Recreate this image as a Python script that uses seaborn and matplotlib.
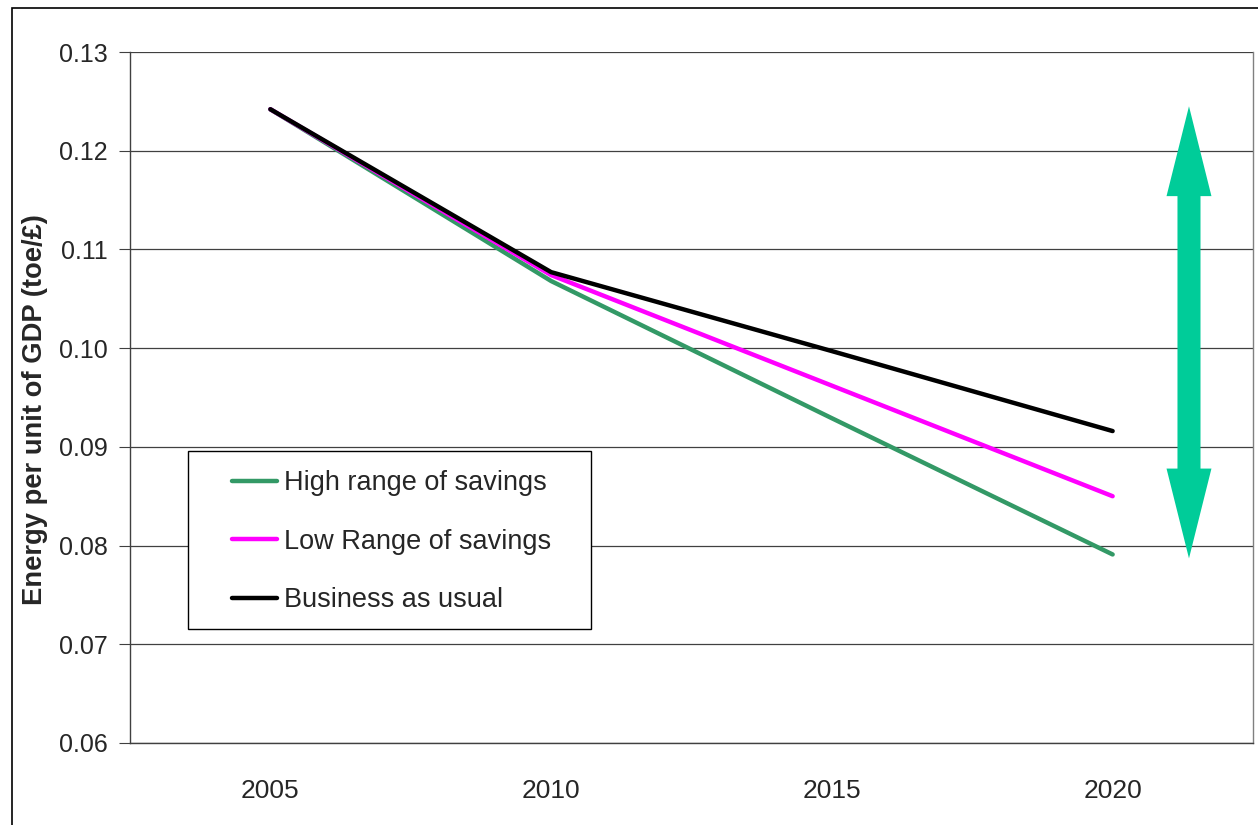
import matplotlib
matplotlib.use("Agg")
import matplotlib.pyplot as plt
import seaborn as sns
import pandas as pd
from matplotlib.patches import Rectangle, Polygon
from matplotlib.lines import Line2D

years = ["2005", "2010", "2015", "2020"]
high_savings = [0.1242, 0.1068, 0.0929, 0.0791]
low_savings = [0.1242, 0.1074, 0.0962, 0.0850]
business_as_usual = [0.1242, 0.1077, 0.0997, 0.0916]
series_names = ["High range of savings", "Low Range of savings", "Business as usual"]
colors = {"High range of savings": "#339966",
          "Low Range of savings": "#FF00FF",
          "Business as usual": "#000000"}
y_ticks = [0.06, 0.07, 0.08, 0.09, 0.10, 0.11, 0.12, 0.13]
arrow_top = 0.1245
arrow_bottom = 0.0787

rows = []
for name, vals in zip(series_names, [high_savings, low_savings, business_as_usual]):
    for yr, v in zip(years, vals):
        rows.append({"year": yr, "value": v, "series": name})
df = pd.DataFrame(rows)

sns.set_style("white")
plt.rcParams["font.family"] = ["Liberation Sans", "DejaVu Sans"]

fig = plt.figure(figsize=(12.58, 8.25), dpi=100)
ax = fig.add_axes([130/1258, 1-743/825, 1123/1258, 691/825])

sns.lineplot(data=df, x="year", y="value", hue="series", palette=colors,
             hue_order=series_names, sort=False, linewidth=3.2, ax=ax,
             legend=False, zorder=5, solid_capstyle="round")

ax.set_xlim(-0.5, 3.5)
ax.set_ylim(0.06, 0.13)
ax.set_yticks(y_ticks)
ax.set_yticklabels([f"{t:.2f}" for t in y_ticks], fontsize=18)
ax.set_xticks(range(len(years)))
ax.set_xticklabels(years, fontsize=19)
ax.set_xticks([i - 0.5 for i in range(len(years) + 1)], minor=True)
ax.tick_params(axis="x", which="major", length=0, pad=26)
ax.tick_params(axis="x", which="minor", length=10, width=0.8, color="#404040", direction="out")
ax.tick_params(axis="y", which="major", length=8, width=0.8, color="#404040", direction="out", pad=8, left=True)
ax.grid(axis="y", color="#404040", linewidth=0.9)
ax.grid(axis="x", visible=False)
ax.set_axisbelow(True)
ax.spines["top"].set_visible(False)
ax.spines["left"].set_color("#404040")
ax.spines["bottom"].set_color("#404040")
ax.spines["right"].set_color("#808080")
for s in ["left", "bottom", "right"]:
    ax.spines[s].set_linewidth(1.0)
ax.set_xlabel("")
ax.set_ylabel("Energy per unit of GDP (toe/£)", fontsize=19.7, fontweight="bold")
ax.yaxis.set_label_coords(-(130 - 48) / 1123, (743 - 410) / 691)

# double-headed arrow
xc = 3.272
sh = 0.041
hh = 0.080
hl = 0.0091
verts = [(xc, arrow_top), (xc + hh, arrow_top - hl), (xc + sh, arrow_top - hl),
         (xc + sh, arrow_bottom + hl), (xc + hh, arrow_bottom + hl), (xc, arrow_bottom),
         (xc - hh, arrow_bottom + hl), (xc - sh, arrow_bottom + hl), (xc - sh, arrow_top - hl),
         (xc - hh, arrow_top - hl)]
ax.add_patch(Polygon(verts, closed=True, facecolor="#00CC99", edgecolor="none", zorder=6))

# legend box
ax.add_patch(Rectangle((58/1123, (743-629)/691), 403/1123, 178/691, transform=ax.transAxes,
                       facecolor="white", edgecolor="black", linewidth=1.0, zorder=7))
handles = [Line2D([0], [0], color=colors[n], linewidth=3.2, solid_capstyle="round") for n in series_names]
leg = ax.legend(handles, series_names, loc="upper left", bbox_to_anchor=((232-130)/1123, (743-470)/691),
                frameon=False, fontsize=19.5, borderpad=0, handlelength=1.65, handletextpad=0.27,
                labelspacing=1.2, borderaxespad=0)
leg.set_zorder(8)

# outer frame
fig.add_artist(Rectangle((12/1258, -0.1), 1.2, (825-8)/825 + 0.1, transform=fig.transFigure,
                         fill=False, edgecolor="black", linewidth=1.2))

fig.savefig("out.png", dpi=100)
